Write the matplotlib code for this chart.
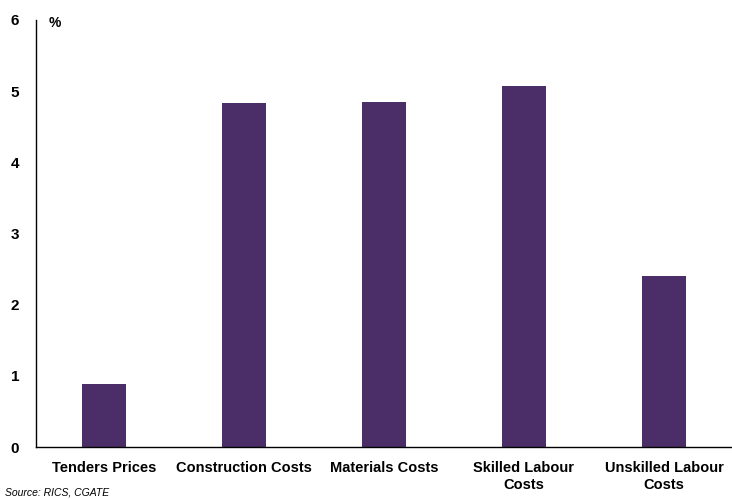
import matplotlib.pyplot as plt

categories = ["Tenders Prices", "Construction Costs", "Materials Costs",
              "Skilled Labour\nCosts", "Unskilled Labour\nCosts"]
values = [0.89, 4.83, 4.85, 5.07, 2.41]
y_ticks = [0, 1, 2, 3, 4, 5, 6]

plt.rcParams['font.family'] = ['Liberation Sans', 'DejaVu Sans']

fig = plt.figure(figsize=(7.32, 4.99), dpi=100)
ax = fig.add_axes([0.049, 0.104, 0.951, 0.856])

ax.bar(range(len(values)), values, width=0.315, color='#4b2e68')

ax.set_xlim(-0.486, 4.486)
ax.set_ylim(0, 6)
ax.set_yticks(y_ticks)
ax.set_xticks(range(len(categories)))
ax.set_xticklabels(categories, fontweight='bold', fontsize=10.5, linespacing=1.25)
ax.tick_params(axis='y', length=0, pad=12, labelsize=11)
ax.tick_params(axis='x', length=0, pad=10)
for lbl in ax.get_yticklabels():
    lbl.set_fontweight('bold')

for side in ['top', 'right']:
    ax.spines[side].set_visible(False)
ax.spines['left'].set_linewidth(1.0)
ax.spines['bottom'].set_linewidth(1.0)

fig.text(0.067, 0.953, "%", fontsize=10, fontweight='bold', va='center')
fig.text(0.007, 0.014, "Source: RICS, CGATE", fontsize=7.5, style='italic', va='center')

fig.savefig("out.png", dpi=100)
